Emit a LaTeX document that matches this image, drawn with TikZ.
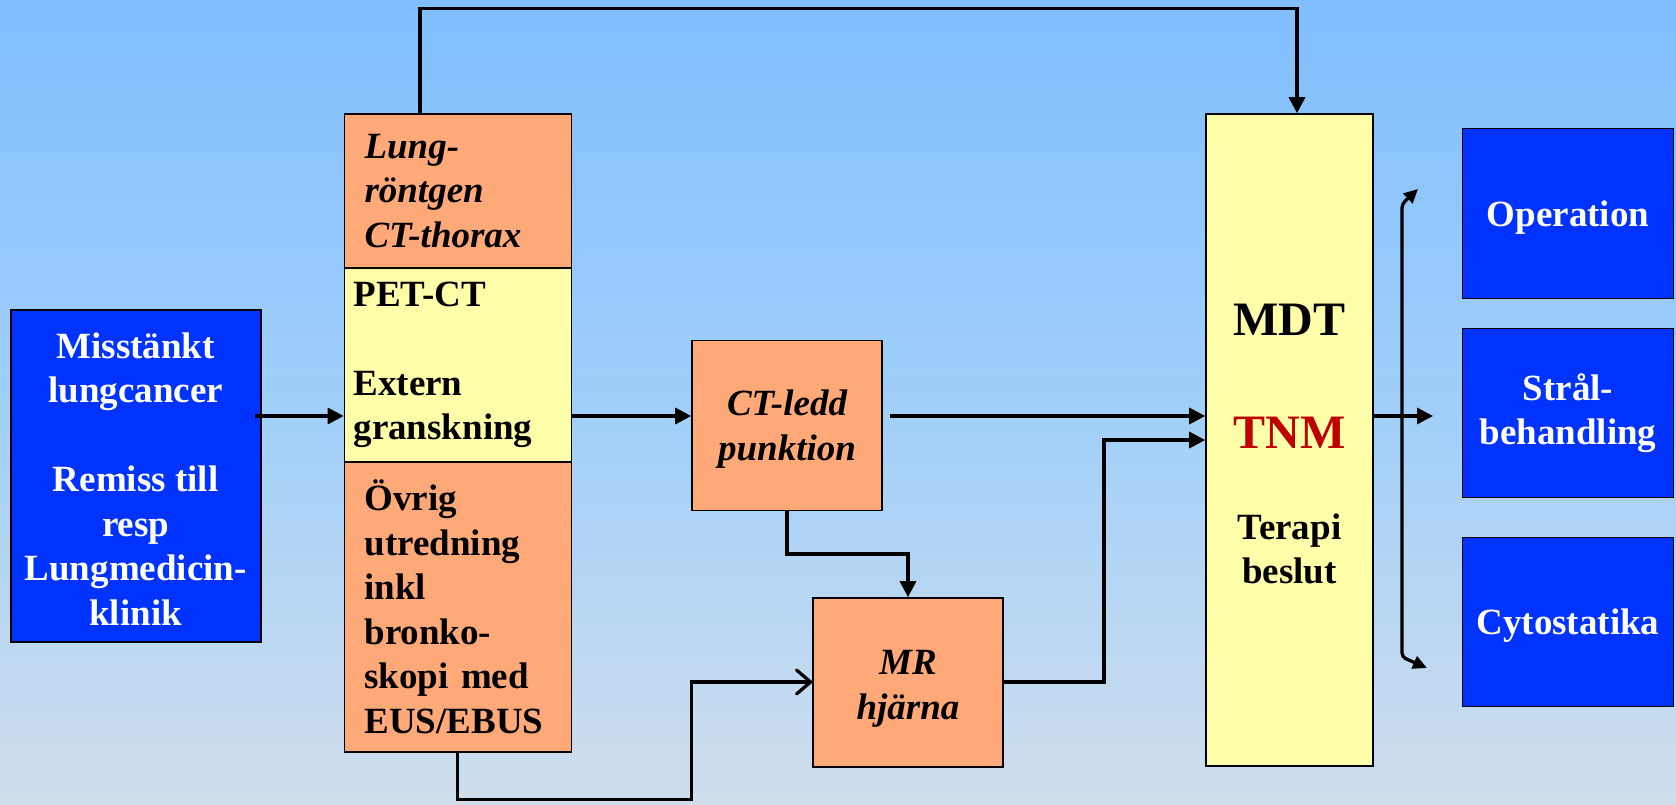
\documentclass[tikz,border=0pt]{standalone}
\usepackage{fontspec}
\setmainfont{Liberation Serif}
\usetikzlibrary{arrows.meta,calc}
\definecolor{bgtop}{RGB}{128,190,254}
\definecolor{bgmid}{RGB}{160,207,250}
\definecolor{bgbot}{RGB}{208,222,236}
\definecolor{boxblue}{RGB}{0,51,255}
\definecolor{boxorange}{RGB}{255,168,120}
\definecolor{boxyellow}{RGB}{255,255,170}
\definecolor{tnmred}{RGB}{192,0,0}
\begin{document}
\begin{tikzpicture}[x=1pt,y=-1pt,
  box/.style={draw=black, line width=1.6pt, rectangle, inner sep=0pt},
  txt/.style={font=\fontsize{37}{44.5}\selectfont\bfseries},
  itxt/.style={font=\fontsize{37}{44.5}\selectfont\bfseries\itshape},
  bluebox/.style={box, fill=boxblue, text=white, align=center, txt},
  orangebox/.style={box, fill=boxorange, text=black},
  yellowbox/.style={box, fill=boxyellow, text=black},
  conn/.style={line width=3.3pt, line join=miter},
  arr/.style={conn, -{Triangle[length=16pt,width=16pt]}},
  openarr/.style={conn, -{Straight Barb[length=14pt,width=24pt,line cap=round,line join=round]}},
  smallarr/.style={conn, rounded corners=4pt, -{Triangle[length=14pt,width=13pt]}}
]
\useasboundingbox (0,0) rectangle (1676,804);
\shade[top color=bgtop, bottom color=bgbot, middle color=bgmid] (0,0) rectangle (1676,804);

% left blue box
\node[bluebox, minimum width=250, minimum height=332] (mis) at (135.7,476)
  {\rule{0pt}{31pt}Misstänkt\\lungcancer\\[44.5pt]Remiss till\\resp\\Lungmedicin-\\klinik};

% left column
\node[orangebox, itxt, minimum width=227, minimum height=154, text width=187, align=left] (lung) at (458,191)
  {Lung-\\röntgen\\CT-thorax};
\node[yellowbox, txt, minimum width=227, minimum height=194, text width=209, align=left] (pet) at (458,365)
  {PET-CT\\[44.5pt]Extern\\granskning};
\node[orangebox, txt, minimum width=227, minimum height=290, text width=187, align=left] (ovr) at (458,607)
  {Övrig\\utredning\\inkl\\bronko-\\\mbox{skopi med}\\EUS/EBUS};

% middle boxes
\node[orangebox, itxt, align=center, minimum width=190, minimum height=170] (ct) at (787,425.5)
  {\rule{0pt}{33pt}CT-ledd\\punktion};
\node[orangebox, itxt, align=center, minimum width=190, minimum height=169] (mr) at (908,682.5)
  {\rule{0pt}{37pt}MR\\hjärna};

% MDT box
\node[yellowbox, minimum width=167, minimum height=652] (mdt) at (1289.5,440) {};
\node[anchor=base, font=\fontsize{48}{50}\selectfont\bfseries, inner sep=0pt] (mdttxt) at (mdt.center |- 0,335) {MDT};
\node[anchor=base, font=\fontsize{48}{50}\selectfont\bfseries, text=tnmred, inner sep=0pt] (tnm) at (mdt.center |- 0,448) {TNM};
\node[txt, align=center, inner sep=0pt] (terapi) at (mdt.center |- 0,549) {Terapi\\beslut};

% right boxes
\node[bluebox, minimum width=211, minimum height=170, text depth=0pt] (op) at (1568,213.5) {Operation};
\node[bluebox, minimum width=211, minimum height=169] (stral) at (1568,413) {Strål-\\behandling};
\node[bluebox, minimum width=211, minimum height=169, text depth=0pt] (cyto) at (1568,622) {Cytostatika};

% helper coordinates
\coordinate (r1) at (0,416);
\coordinate (r2) at (0,682);
\coordinate (j1) at (1104,440);
\coordinate (j2) at (0,554);
\coordinate (j3) at (691.5,799);
\coordinate (j4) at (420,8.5);
\coordinate (j5) at (1297,8.5);
\coordinate (t1) at (1433,416);
\coordinate (bx) at (1402,416);
\coordinate (bt) at (1402,204);
\coordinate (btip) at (1418,189);
\coordinate (bb) at (1402,657);
\coordinate (bbtip) at (1427,668);

% connectors
\draw[arr] ([xshift=-7pt]mis.east |- r1) -- (pet.west |- r1);
\draw[arr] (pet.east |- r1) -- (ct.west |- r1);
\draw[arr] ([xshift=7pt]ct.east |- r1) -- (mdt.west |- r1);
\draw[arr] (mr.east |- r2) -| (j1) -- (mdt.west |- j1);
\draw[arr] (ct.south) -- (ct.south |- j2) -| (mr.north);
\draw[openarr] (ovr.south -| j4) ++(37.5,0) -- ++(0,47) -| (j3 |- r2) -- (mr.west |- r2);
\draw[arr] (lung.north -| j4) -- (j4) -- (j5) -- (mdt.north -| j5);
\draw[arr] (mdt.east |- r1) -- (t1);
\draw[smallarr] (bx) -- (bt) -- (btip);
\draw[smallarr] (bx) -- (bb) -- (bbtip);
\end{tikzpicture}
\end{document}
